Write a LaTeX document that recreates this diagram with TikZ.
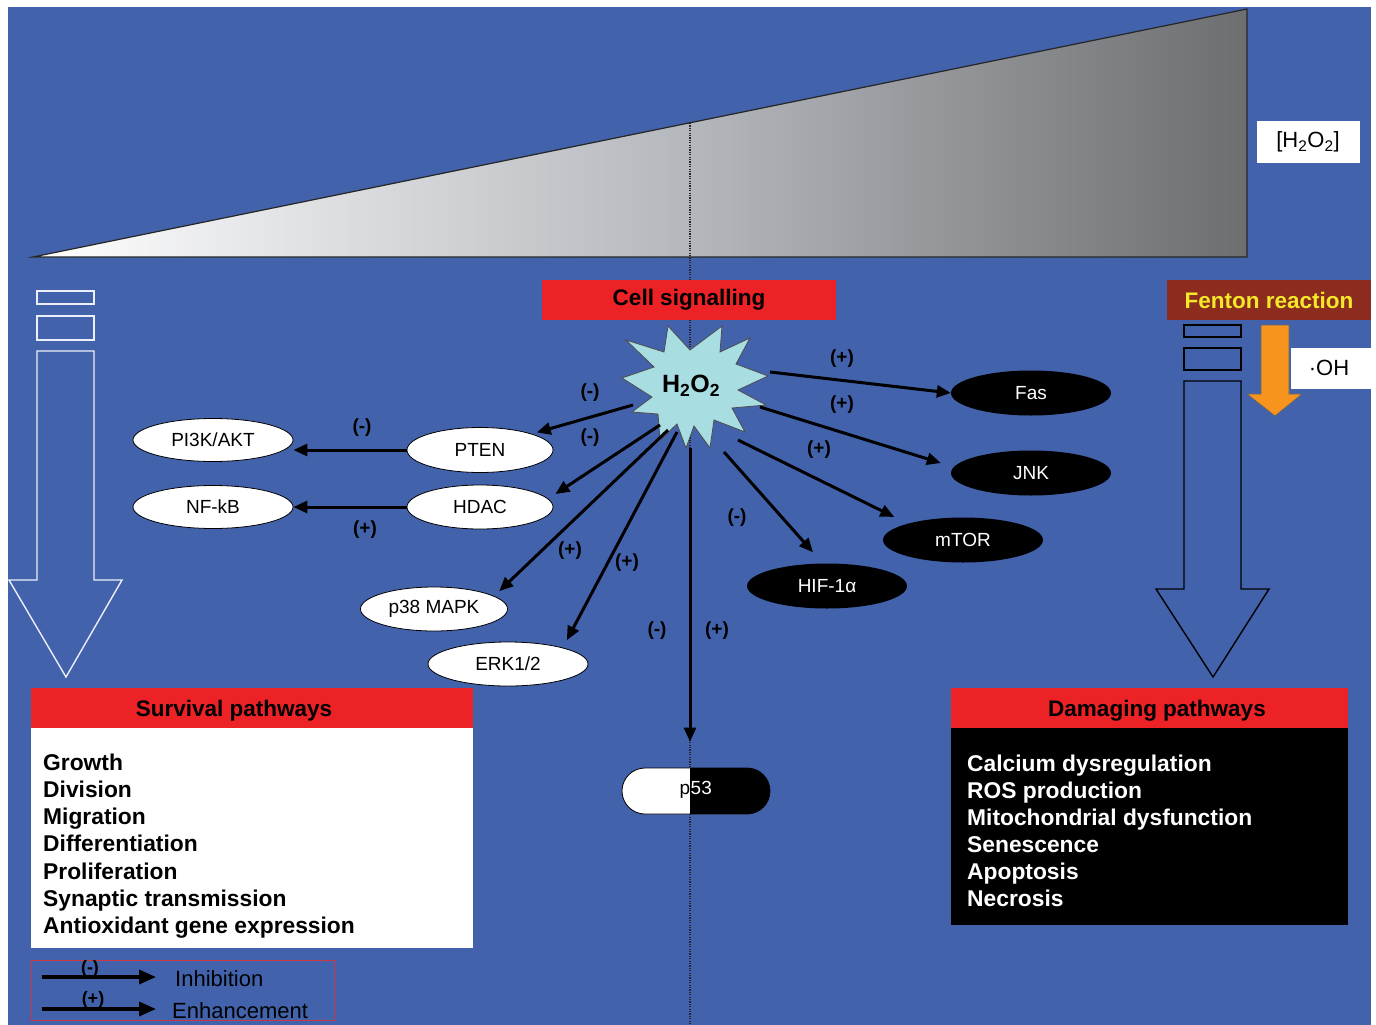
\documentclass[tikz,border=0pt]{standalone}
\usepackage{fontspec}
\setmainfont{Liberation Sans}
\usetikzlibrary{arrows.meta,shapes.geometric,shapes.misc,calc}
\definecolor{bgblue}{RGB}{66,98,172}
\definecolor{redc}{RGB}{236,34,39}
\definecolor{fentonc}{RGB}{140,44,30}
\definecolor{fentontext}{RGB}{244,233,40}
\definecolor{orangec}{RGB}{247,148,30}
\definecolor{starc}{RGB}{168,221,226}
\definecolor{trigray}{RGB}{109,110,112}
\definecolor{midgray}{RGB}{180,183,188}
\definecolor{legred}{RGB}{205,55,65}
\tikzset{
  lbl/.style={font=\fontsize{19}{22}\selectfont\bfseries, inner sep=0pt},
  wnode/.style={ellipse, draw=black, line width=0.8pt, fill=white, minimum width=158pt, minimum height=44pt, inner sep=0pt, font=\fontsize{19}{22}\selectfont},
  bnode/.style={ellipse, fill=black, text=white, minimum width=160pt, minimum height=45pt, inner sep=0pt, font=\fontsize{19}{22}\selectfont},
  arr/.style={line width=3pt, -{Triangle[length=14pt,width=12pt]}},
  legarr/.style={line width=3.5pt, -{Triangle[length=17pt,width=14pt]}},
  hdr/.style={font=\fontsize{22.5}{26}\selectfont\bfseries, inner sep=0pt},
  item/.style={font=\fontsize{22.8}{26}\selectfont\bfseries, anchor=base west, inner sep=0pt},
  dotline/.style={draw=black!85, line width=1.1pt, dash pattern=on 1.2pt off 1.2pt},
}
\begin{document}
\begin{tikzpicture}[x=1pt,y=-1pt]
\useasboundingbox (0,0) rectangle (1376,1025);
\fill[white] (0,0) rectangle (1376,1025);
\fill[bgblue] (8,7) rectangle (1371,1025);

% concentration wedge
\shade[left color=white, right color=midgray] (33,257) -- (690,123) -- (690,257) -- cycle;
\shade[left color=midgray, right color=trigray] (690,123) -- (1247,9) -- (1247,257) -- (690,257) -- cycle;
\draw[draw=black!85, line width=1.2pt, line join=miter] (33,257) -- (1247,9) -- (1247,257) -- cycle;
\draw[dotline] (690,123) -- (690,1025);

\node[fill=white, minimum width=103pt, minimum height=42pt, inner sep=0pt, font=\fontsize{22}{26}\selectfont] (conc) at (1308,142) {[H\textsubscript{2}O\textsubscript{2}]};

% left hollow arrow (white)
\draw[white!90!bgblue, line width=1.4pt] (37,291) rectangle (94,304);
\draw[white!90!bgblue, line width=1.4pt] (37,316) rectangle (94,340);
\draw[white!90!bgblue, line width=1.4pt, line join=miter]
  (37,351) -- (94,351) -- (94,580) -- (122,580) -- (66,677) -- (9,580) -- (37,580) -- cycle;

% right hollow arrow (black)
\draw[black, line width=1.4pt] (1184,325) rectangle (1241,337);
\draw[black, line width=1.4pt] (1184,348) rectangle (1241,370);
\draw[black, line width=1.4pt, line join=miter]
  (1184,381) -- (1241,381) -- (1241,589) -- (1269,589) -- (1213,677) -- (1156,589) -- (1184,589) -- cycle;

% Fenton
\node[fill=fentonc, text=fentontext, minimum width=204pt, minimum height=40pt, inner sep=0pt, font=\fontsize{22.5}{26}\selectfont\bfseries] (fenton) at (1269,300) {Fenton reaction};
\node[fill=white, minimum width=80pt, minimum height=41pt, inner sep=0pt, font=\fontsize{22}{26}\selectfont] (oh) at (1331,368) {\hspace*{-4pt}·OH};
\filldraw[fill=orangec, draw=black!60, line width=0.8pt]
  (1261,325) -- (1289,325) -- (1289,394) -- (1302,394) -- (1275,416) -- (1247,394) -- (1261,394) -- cycle;

% Cell signalling
\node[fill=redc, minimum width=294pt, minimum height=40pt, hdr] (cs) at (689,300) {Cell signalling};

% H2O2 star
\filldraw[fill=starc, draw=black!70, line width=0.8pt]
  (622,378) -- (654,367) -- (626,340) -- (664,352) -- (668,326) -- (690,350)
  -- (722,326) -- (720,352) -- (750,338) -- (736,364) -- (768,376) -- (738,390)
  -- (766,405) -- (732,408) -- (745,432) -- (714,420) -- (710,448) -- (694,426)
  -- (686,448) -- (677,424) -- (660,440) -- (658,414) -- (632,412) -- (652,397) -- cycle;
\node[font=\fontsize{25}{28}\selectfont\bfseries, inner sep=0pt] (h2o2) at (691,386) {H\textsubscript{2}O\textsubscript{2}};

\coordinate (spten) at (633,405);
\coordinate (shdac) at (660,425);
\coordinate (sp38) at (668,430);
\coordinate (serk) at (677,432);
\coordinate (sp53) at (690,448);
\coordinate (shif) at (724,452);
\coordinate (smtor) at (738,440);
\coordinate (sjnk) at (760,407);
\coordinate (sfas) at (770,372);

% white nodes
\node[wnode, minimum width=160pt, minimum height=43pt] (pi3k) at (213,440) {PI3K/AKT};
\node[wnode, minimum width=146pt, minimum height=45pt] (pten) at (480,450) {PTEN};
\node[wnode, minimum width=160pt, minimum height=43pt] (nfkb) at (213,507) {NF-kB};
\node[wnode, minimum width=146pt, minimum height=44pt] (hdac) at (480,507) {HDAC};
\node[wnode, minimum width=147pt, minimum height=44pt] (p38) at (434,609) {p38 MAPK};
\node[wnode, minimum width=160pt, minimum height=44pt] (erk) at (508,664) {ERK1/2};

% black nodes
\node[bnode] (fas) at (1031,393) {Fas};
\node[bnode] (jnk) at (1031,473) {JNK};
\node[bnode] (mtor) at (963,540) {mTOR};
\node[bnode] (hif) at (827,586) {HIF-1α};

% p53
\node[rounded rectangle, draw=black, line width=0.8pt, fill=white, minimum width=148pt, minimum height=46pt, inner sep=0pt] (p53) at (696,791) {};
\begin{scope}
\clip (690,760) rectangle (780,820);
\node[rounded rectangle, fill=black, minimum width=148pt, minimum height=46pt, inner sep=0pt] (p53b) at (696,791) {};
\end{scope}
\node[anchor=base east, inner sep=0pt, font=\fontsize{19}{22}\selectfont] (p53p) at (690.5,794) {p};
\node[anchor=base west, inner sep=0pt, text=white, font=\fontsize{19}{22}\selectfont] (p53n) at (690.5,794) {53};

% arrows from H2O2
\draw[arr, shorten >=5pt] (spten) -- (pten.north east);
\draw[arr] (shdac) -- ($(hdac.east)+(2,-13)$);
\draw[arr] (sp38) -- ($(p38.north east)+(13,-2)$);
\draw[arr] (serk) -- ($(erk.north east)+(2,-8)$);
\draw[arr, shorten >=26pt] (sp53) -- (sp53 |- p53.north);
\draw[arr] (shif) -- ($(hif.north)+(-14,-11)$);
\draw[arr] (smtor) -- ($(mtor.north west)+(-12,-7)$);
\draw[arr] (sjnk) -- ($(jnk.west)+(-10,-10)$);
\draw[arr] (sfas) -- (fas.west);
\draw[arr] (pten.west) -- (pten.west -| pi3k.east);
\draw[arr] (hdac.west) -- (hdac.west -| nfkb.east);

% sign labels
\node[lbl] (la1) at (590,393) {(-)};
\node[lbl] (la2) at (590,438) {(-)};
\node[lbl] (la3) at (570,551) {(+)};
\node[lbl] (la4) at (627,563) {(+)};
\node[lbl] (la5) at (657,631) {(-)};
\node[lbl] (la6) at (717,631) {(+)};
\node[lbl] (la7) at (737,518) {(-)};
\node[lbl] (la8) at (819,450) {(+)};
\node[lbl] (la9) at (842,405) {(+)};
\node[lbl] (la10) at (842,359) {(+)};
\node[lbl] (la11) at (362,428) {(-)};
\node[lbl] (la12) at (365,530) {(+)};

% Survival pathways
\fill[white] (31,688) rectangle (473,948);
\fill[redc] (31,688) rectangle (473,728);
\node[hdr] (surv) at (234,711) {Survival pathways};
\foreach \t [count=\i] in {Growth,Division,Migration,Differentiation,Proliferation,Synaptic transmission,Antioxidant gene expression}
  \node[item] (sv\i) at (43,{770+27.3*(\i-1)}) {\t};

% Damaging pathways
\fill[black] (951,688) rectangle (1348,925);
\fill[redc] (951,688) rectangle (1348,728);
\node[hdr] (dam) at (1157,711) {Damaging pathways};
\foreach \t [count=\i] in {Calcium dysregulation,ROS production,Mitochondrial dysfunction,Senescence,Apoptosis,Necrosis}
  \node[item, text=white] (dm\i) at (967,{771+27*(\i-1)}) {\t};

% legend
\draw[legred, line width=1pt] (31,960) rectangle (334,1020);
\coordinate (le1s) at (42,977);
\coordinate (le1e) at (156,977);
\coordinate (le2s) at (42,1009);
\coordinate (le2e) at (156,1009);
\draw[legarr] (le1s) -- (le1e);
\draw[legarr] (le2s) -- (le2e);
\node[lbl, font=\fontsize{18}{20}\selectfont\bfseries] (lg1) at (90,969) {(-)};
\node[lbl, font=\fontsize{18}{20}\selectfont\bfseries] (lg2) at (93,1000) {(+)};
\node[anchor=west, inner sep=0pt, font=\fontsize{22}{26}\selectfont] (inh) at (175,979) {Inhibition};
\node[anchor=west, inner sep=0pt, font=\fontsize{22}{26}\selectfont] (enh) at (172,1011) {Enhancement};
\end{tikzpicture}
\end{document}
